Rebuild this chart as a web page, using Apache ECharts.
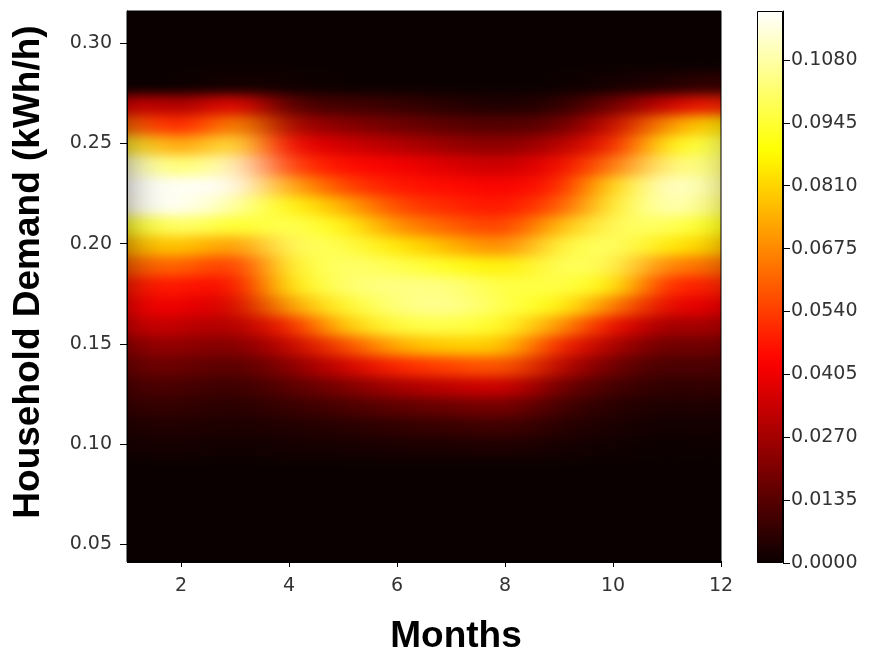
<!DOCTYPE html>
<html>
<head>
<meta charset="utf-8">
<script src="https://cdn.jsdelivr.net/npm/echarts@6/dist/echarts.min.js"></script>
<style>
  body { margin: 0; background: #fff; }
  #wrap { position: relative; width: 874px; height: 660px; }
  #clip { position: absolute; left: 127px; top: 11px; width: 594px; height: 552px; overflow: hidden; background: #0b0000; }
  #heat { position: absolute; transform-origin: 0 0; filter: blur(6px); }
  #main { position: absolute; left: 0; top: 0; width: 874px; height: 660px; }
</style>
</head>
<body>
<div id="wrap">
  <div id="clip"><div id="heat"></div></div>
  <div id="main"></div>
</div>
<script>
// months on x, demand levels on y (kWh/h)
var months = [1, 2, 3, 4, 5, 6, 7, 8, 9, 10, 11, 12];
var levels = [0.10, 0.11, 0.12, 0.13, 0.14, 0.15, 0.16, 0.17, 0.18, 0.19,
              0.20, 0.21, 0.22, 0.23, 0.24, 0.25, 0.26, 0.27, 0.28];

// density per month, one value per level (bottom to top)
var jan = [0.002,0.004,0.008,0.012,0.018,0.025,0.036,0.043,0.048,0.060,0.075,0.092,0.116,0.118,0.116,0.095,0.065,0.040,0.000];
var feb = [0.002,0.004,0.007,0.011,0.017,0.024,0.032,0.040,0.048,0.062,0.080,0.103,0.118,0.117,0.098,0.068,0.045,0.025,0.000];
var mar = [0.001,0.003,0.005,0.008,0.013,0.020,0.028,0.035,0.042,0.050,0.068,0.092,0.108,0.118,0.115,0.097,0.072,0.045,0.002];
var apr = [0.002,0.004,0.008,0.014,0.022,0.033,0.048,0.072,0.087,0.093,0.100,0.100,0.090,0.075,0.055,0.042,0.028,0.012,0.001];
var may = [0.002,0.005,0.011,0.020,0.035,0.055,0.080,0.093,0.102,0.102,0.098,0.090,0.075,0.055,0.045,0.035,0.022,0.010,0.000];
var jun = [0.003,0.007,0.015,0.028,0.050,0.075,0.096,0.104,0.104,0.098,0.085,0.068,0.055,0.047,0.042,0.030,0.018,0.008,0.000];
var jul = [0.003,0.008,0.017,0.032,0.055,0.080,0.098,0.106,0.104,0.092,0.075,0.060,0.050,0.045,0.037,0.025,0.014,0.005,0.000];
var aug = [0.004,0.010,0.020,0.036,0.060,0.080,0.092,0.097,0.095,0.085,0.065,0.052,0.046,0.042,0.033,0.022,0.012,0.003,0.000];
var sep = [0.002,0.005,0.010,0.018,0.032,0.048,0.070,0.090,0.098,0.100,0.095,0.078,0.058,0.048,0.042,0.030,0.016,0.006,0.000];
var oct = [0.001,0.003,0.005,0.010,0.017,0.028,0.042,0.065,0.088,0.098,0.102,0.100,0.093,0.085,0.065,0.048,0.035,0.018,0.002];
var nov = [0.000,0.001,0.003,0.006,0.010,0.016,0.025,0.038,0.048,0.065,0.085,0.100,0.113,0.115,0.104,0.090,0.070,0.035,0.004];
var dec = [0.001,0.002,0.004,0.008,0.013,0.020,0.030,0.040,0.050,0.062,0.078,0.090,0.100,0.105,0.103,0.100,0.085,0.050,0.008];
var columns = [jan, feb, mar, apr, may, jun, jul, aug, sep, oct, nov, dec];

var xTicks = [2, 4, 6, 8, 10, 12];
var yTicks = [0.05, 0.10, 0.15, 0.20, 0.25, 0.30];
var cbTicks = [0, 0.0135, 0.0270, 0.0405, 0.0540, 0.0675, 0.0810, 0.0945, 0.1080];

var vmax = 0.1185;
var xMin = 1, xMax = 12, yMin = 0.0415, yMax = 0.3162;

// matplotlib "hot" colormap
function hot(f) {
  var r = Math.min(1, 0.0416 + (1 - 0.0416) * f / 0.365079);
  var g = Math.min(1, Math.max(0, (f - 0.365079) / (0.746032 - 0.365079)));
  var b = Math.min(1, Math.max(0, (f - 0.746032) / (1 - 0.746032)));
  return 'rgb(' + Math.round(r * 255) + ',' + Math.round(g * 255) + ',' + Math.round(b * 255) + ')';
}
var hotColors = [], hotStops = [];
for (var i = 0; i <= 40; i++) {
  hotColors.push(hot(i / 40));
  hotStops.push({ offset: i / 40, color: hot(i / 40) });
}

// heat layer: drawn squeezed in x, blurred, then stretched back -> softer across months
var plotW = 594, plotH = 552, padX = 110, padY = 40, squeeze = 4.5;
var pxX = plotW / (xMax - xMin), pxY = plotH / (yMax - yMin);
var hXMin = xMin - padX / pxX, hXMax = xMax + padX / pxX;
var hYMin = yMin - padY / pxY, hYMax = yMax + padY / pxY;
var heatDom = document.getElementById('heat');
heatDom.style.left = -padX + 'px';
heatDom.style.top = -padY + 'px';
heatDom.style.width = ((plotW + 2 * padX) / squeeze) + 'px';
heatDom.style.height = (plotH + 2 * padY) + 'px';
heatDom.style.transform = 'scaleX(' + squeeze + ')';

var heatData = [];
for (var m = 0; m < months.length; m++) {
  for (var l = 0; l < levels.length; l++) {
    heatData.push([months[m], levels[l], columns[m][l]]);
  }
}

var heat = echarts.init(heatDom);
heat.setOption({
  animation: false,
  backgroundColor: '#0b0000',
  grid: { left: 0, right: 0, top: 0, bottom: 0 },
  xAxis: { type: 'value', min: hXMin, max: hXMax, show: false },
  yAxis: { type: 'value', min: hYMin, max: hYMax, show: false },
  visualMap: { type: 'continuous', show: false, min: 0, max: vmax, dimension: 2, inRange: { color: hotColors } },
  series: [{
    type: 'custom',
    clip: false,
    encode: { x: 0, y: 1 },
    data: heatData,
    renderItem: function (params, api) {
      var mo = api.value(0), lv = api.value(1);
      var x0 = mo === months[0] ? hXMin : mo - 0.5;
      var x1 = mo === months[months.length - 1] ? hXMax : mo + 0.5;
      var p0 = api.coord([x0, lv + 0.005]);
      var p1 = api.coord([x1, lv - 0.005]);
      return {
        type: 'rect',
        shape: { x: p0[0], y: Math.floor(p0[1]), width: p1[0] - p0[0] + 0.5, height: Math.ceil(p1[1] - p0[1]) + 1 },
        style: { fill: api.visual('color') }
      };
    }
  }]
});

// axes + colorbar on top
var tickFont = { fontSize: 19, color: '#333', fontFamily: 'DejaVu Sans' };
var chart = echarts.init(document.getElementById('main'));
chart.setOption({
  animation: false,
  grid: [
    { left: 127, top: 11, width: plotW, height: plotH, show: true, borderColor: '#000', borderWidth: 1, backgroundColor: 'transparent' },
    { left: 757, top: 11, width: 26, height: plotH }
  ],
  xAxis: [{
    gridIndex: 0, type: 'value', min: xMin, max: xMax,
    axisLine: { show: true, lineStyle: { color: '#000', width: 1 } },
    axisTick: { show: true, length: 6, lineStyle: { color: '#000' }, customValues: xTicks },
    axisLabel: Object.assign({ customValues: xTicks, margin: 16 }, tickFont),
    splitLine: { show: false },
    name: 'Months', nameLocation: 'middle', nameGap: 57,
    nameTextStyle: { fontSize: 37, fontWeight: 'bold', fontFamily: 'Liberation Sans', color: '#000', padding: [0, 0, 0, 64] }
  }, {
    gridIndex: 1, type: 'category', data: ['cb'], show: false
  }],
  yAxis: [{
    gridIndex: 0, type: 'value', min: yMin, max: yMax,
    axisLine: { show: true, lineStyle: { color: '#000', width: 1 } },
    axisTick: { show: true, length: 7, lineStyle: { color: '#000' }, customValues: yTicks },
    axisLabel: Object.assign({ customValues: yTicks, margin: 15, formatter: function (v) { return v.toFixed(2); } }, tickFont),
    splitLine: { show: false },
    name: 'Household Demand (kWh/h)', nameLocation: 'middle', nameGap: 80,
    nameTextStyle: { fontSize: 37, fontWeight: 'bold', fontFamily: 'Liberation Sans', color: '#000', padding: [0, 0, 0, 28] }
  }, {
    gridIndex: 1, type: 'value', position: 'right', min: 0, max: vmax,
    axisLine: { show: true, lineStyle: { color: '#000', width: 1 } },
    axisTick: { show: true, length: 7, lineStyle: { color: '#000' }, customValues: cbTicks },
    axisLabel: Object.assign({ customValues: cbTicks, margin: 8, formatter: function (v) { return v.toFixed(4); } }, tickFont),
    splitLine: { show: false }
  }],
  series: [{
    type: 'bar', xAxisIndex: 1, yAxisIndex: 1, silent: true,
    barWidth: '100%', data: [vmax],
    itemStyle: {
      color: new echarts.graphic.LinearGradient(0, 1, 0, 0, hotStops),
      borderColor: '#000', borderWidth: 1
    }
  }]
});
</script>
</body>
</html>
